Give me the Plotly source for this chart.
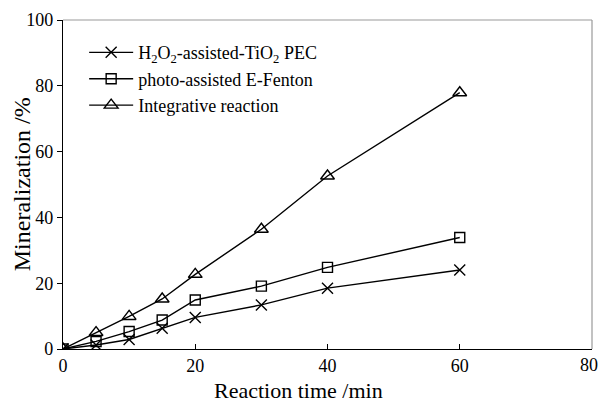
import plotly.graph_objects as go

time_min = [0, 5, 10, 15, 20, 30, 40, 60]
pec = [0, 1.2, 2.9, 6.3, 9.6, 13.4, 18.5, 24.0]
fenton = [0, 2.3, 5.3, 8.8, 14.9, 19.1, 24.8, 33.9]
integrative = [0, 5.0, 9.9, 15.2, 22.7, 36.4, 52.6, 77.9]

x_ticks = [0, 20, 40, 60, 80]
x_ticktext = ["0", "20", "40", "60", ""]
y_ticks = [0, 20, 40, 60, 80, 100]

names = ["H<sub>2</sub>O<sub>2</sub>-assisted-TiO<sub>2</sub> PEC",
         "photo-assisted E-Fenton",
         "Integrative reaction"]
symbols = ["x-thin-open", "square-open", "triangle-up-open"]
sizes = [11, 10, 12]

FONT = "Liberation Serif, Times New Roman, serif"

fig = go.Figure()
for name, ys, sym, sz in zip(names, [pec, fenton, integrative], symbols, sizes):
    fig.add_trace(go.Scatter(
        x=time_min, y=ys, name=name, mode="lines+markers",
        line=dict(color="black", width=1.4),
        marker=dict(symbol=sym, size=sz, color="black",
                    line=dict(color="black", width=1.4)),
    ))

fig.update_layout(
    width=599, height=404,
    margin=dict(l=63, r=7, t=20, b=55, autoexpand=False),
    paper_bgcolor="white", plot_bgcolor="white",
    font=dict(family=FONT, size=18, color="black"),
    showlegend=True,
    legend=dict(x=0.04, y=0.957, xanchor="left", yanchor="top",
                bgcolor="rgba(0,0,0,0)", font=dict(family=FONT, size=18),
                itemwidth=44),
    xaxis=dict(range=[0, 80], tickvals=x_ticks, ticktext=x_ticktext,
               ticks="inside", ticklen=5, tickcolor="black",
               showline=True, linecolor="black", linewidth=1.2,
               mirror=False, showgrid=False, zeroline=False,
               ticklabeloverflow="allow", automargin=False,
               tickfont=dict(family=FONT, size=18)),
    yaxis=dict(range=[0, 100], tickvals=y_ticks,
               ticks="outside", ticklen=5, tickcolor="black",
               showline=True, linecolor="black", linewidth=1.2,
               mirror=False, showgrid=False, zeroline=False,
               ticklabeloverflow="allow", automargin=False,
               tickfont=dict(family=FONT, size=18)),
    annotations=[
        dict(text=str(x_ticks[-1]), xref="x", yref="paper",
             x=x_ticks[-1], y=0, xanchor="center", yanchor="top",
             xshift=-3, yshift=-4, showarrow=False,
             font=dict(family=FONT, size=18)),
        dict(text="Reaction time /min", xref="paper", yref="paper",
             x=0.445, y=-0.125, xanchor="center", yanchor="middle",
             showarrow=False, font=dict(family=FONT, size=22)),
        dict(text="Mineralization /%", xref="paper", yref="paper",
             x=-0.078, y=0.50, xanchor="center", yanchor="middle",
             textangle=-90, showarrow=False, font=dict(family=FONT, size=24)),
    ],
    shapes=[
        dict(type="line", xref="paper", yref="paper", x0=0, x1=1, y0=1, y1=1,
             line=dict(color="#999999", width=1.2)),
        dict(type="line", xref="paper", yref="paper", x0=1, x1=1, y0=0, y1=1,
             line=dict(color="#999999", width=1.2)),
    ],
)

fig.write_html("out.html")
